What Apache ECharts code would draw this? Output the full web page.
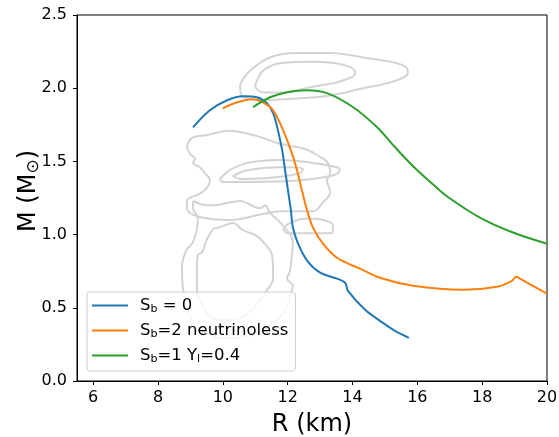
<!DOCTYPE html>
<html>
<head>
<meta charset="utf-8">
<script src="https://cdn.jsdelivr.net/npm/echarts@6/dist/echarts.min.js"></script>
<style>
html,body{margin:0;padding:0;background:#fff;}
#chart{width:559px;height:437px;}
</style>
</head>
<body>
<div id="chart"></div>
<script>
// M-R curves, [R km, M Msun]
var sb0 = [[9.08,1.733],[9.60,1.849],[10.13,1.918],[10.62,1.945],[11.05,1.938],[11.36,1.897],[11.55,1.829],
  [11.70,1.712],[11.83,1.575],[11.92,1.438],[12.01,1.301],[12.10,1.164],[12.16,1.048],[12.32,0.938],
  [12.60,0.822],[13.0,0.740],[13.52,0.699],[13.77,0.671],[13.86,0.616],[14.39,0.486],[14.85,0.411],
  [15.31,0.342],[15.74,0.295]];
var sb2 = [[10.00,1.863],[10.44,1.904],[10.93,1.925],[11.24,1.904],[11.55,1.849],[11.86,1.712],[12.10,1.575],
  [12.29,1.438],[12.44,1.301],[12.60,1.164],[12.78,1.048],[13.09,0.938],[13.52,0.842],[14.23,0.767],
  [14.85,0.705],[15.87,0.651],[17.41,0.623],[18.46,0.644],[18.92,0.685],[19.05,0.712],[19.17,0.699],[20.0,0.596]];
var sb1 = [[10.93,1.870],[11.45,1.938],[11.98,1.973],[12.60,1.986],[13.21,1.966],[14.02,1.870],[14.76,1.733],
  [15.30,1.600],[15.90,1.460],[16.50,1.340],[16.92,1.260],[17.93,1.116],[18.95,1.014],[20.0,0.938]];

// observational contours (grey)
var topOuter = [[10.53,2.02],[10.62,1.94],[11.24,1.92],[12.29,1.93],[13.31,1.95],[14.32,2.00],[15.16,2.04],
  [15.68,2.09],[15.71,2.12],[15.37,2.17],[14.32,2.21],[13.31,2.24],[12.29,2.24],[11.45,2.21],[10.84,2.12],
  [10.59,2.05],[10.53,2.02]];
var topInner = [[10.99,2.01],[11.05,2.05],[11.24,2.12],[11.76,2.17],[12.78,2.18],[13.71,2.16],[14.08,2.11],
  [14.02,2.08],[13.52,2.04],[12.78,2.01],[11.76,1.97],[11.24,1.97],[10.99,2.01]];
var midOuter = [[9.91,1.38],[10.22,1.44],[10.75,1.49],[11.76,1.51],[12.78,1.49],[13.52,1.46],[13.61,1.44],
  [13.31,1.40],[12.29,1.37],[10.75,1.36],[10.0,1.36],[9.91,1.38]];
var midInner = [[10.31,1.40],[10.75,1.44],[11.76,1.46],[12.47,1.45],[12.38,1.42],[11.55,1.39],[10.53,1.38],[10.31,1.40]];
var capLoop = [[8.89,1.60],[9.05,1.66],[9.51,1.68],[10.22,1.71],[10.75,1.69],[11.24,1.66],[11.76,1.62],
  [12.60,1.58],[13.0,1.53],[13.24,1.49],[13.31,1.42],[13.21,1.37],[13.31,1.29],[13.09,1.22],[12.78,1.16],
  [11.76,1.16],[11.24,1.14],[10.22,1.10],[9.29,1.12],[8.89,1.18],[8.89,1.23],[9.29,1.28],[9.51,1.32],
  [9.60,1.37],[9.45,1.42],[9.29,1.46],[9.08,1.49],[9.14,1.52],[8.99,1.55],[8.89,1.60]];
var lowOuter = [[9.08,1.23],[9.51,1.20],[9.70,1.20],[10.22,1.22],[10.53,1.23],[11.15,1.18],[11.30,1.20],
  [11.45,1.15],[11.86,1.06],[12.16,0.95],[12.13,0.86],[12.07,0.75],[11.98,0.70],[12.16,0.65],[12.07,0.58],
  [11.92,0.48],[11.45,0.38],[10.84,0.31],[10.07,0.29],[9.45,0.33],[9.05,0.41],[8.83,0.55],[8.74,0.72],
  [8.74,0.79],[8.83,0.87],[8.89,0.90],[9.08,0.95],[9.20,1.04],[9.23,1.11],[9.08,1.18],[9.08,1.23]];
var lowInner = [[9.70,1.04],[9.91,1.05],[10.31,1.08],[10.62,1.03],[11.05,0.99],[11.36,0.92],[11.52,0.86],
  [11.55,0.75],[11.55,0.70],[11.36,0.62],[10.99,0.51],[10.37,0.42],[9.76,0.42],[9.39,0.51],[9.20,0.62],
  [9.20,0.79],[9.23,0.86],[9.36,0.88],[9.51,0.97],[9.70,1.04]];
var smallLoop = [[11.86,1.04],[12.07,1.08],[12.60,1.11],[13.09,1.10],[13.40,1.06],[13.37,1.01],[12.78,1.01],
  [11.98,1.01],[11.86,1.04]];

var xTicks = [6, 8, 10, 12, 14, 16, 18, 20];
var names = ['Sb0', 'Sb2', 'Sb1'];
var legendText = {Sb0: 'S{s|b} = 0', Sb2: 'S{s|b}=2 neutrinoless', Sb1: 'S{s|b}=1 Y{s|l}=0.4'};

var contours = [topOuter, topInner, midOuter, midInner, capLoop, lowOuter, lowInner, smallLoop];
var series = contours.map(function (c) {
  return {type: 'line', data: c, showSymbol: false, smooth: 0.4, z: 1,
    lineStyle: {color: '#d3d3d3', width: 2}};
});
[[sb0, '#1f77b4'], [sb2, '#ff7f0e'], [sb1, '#2ca02c']].forEach(function (d, i) {
  series.push({name: names[i], type: 'line', data: d[0], showSymbol: false, smooth: 0.35, z: 3,
    color: d[1], lineStyle: {color: d[1], width: 2}});
});

var myChart = echarts.init(document.getElementById('chart'), null, {renderer: 'canvas'});
var font = 'DejaVu Sans';
myChart.setOption({
  animation: false,
  grid: {left: 77, right: 12, top: 15, bottom: 56, show: true, borderColor: '#000', borderWidth: 1,
    outerBoundsMode: 'none', containLabel: false},
  legend: {
    data: names, orient: 'vertical', left: 87, top: 292,
    padding: [4, 7, 6, 5], itemGap: 6, itemWidth: 36, itemHeight: 2, icon: 'rect',
    backgroundColor: 'rgba(255,255,255,0.8)', borderColor: '#ccc', borderWidth: 1, borderRadius: 3,
    formatter: function (n) { return legendText[n]; },
    textStyle: {fontFamily: font, fontSize: 16.5, color: '#000', lineHeight: 19, padding: [0, 0, 0, 7],
      rich: {s: {fontFamily: font, fontSize: 11, verticalAlign: 'bottom', padding: [7, 0, 0, 0]}}}
  },
  xAxis: {
    type: 'value', min: 5.5, max: 20,
    name: 'R (km)', nameLocation: 'middle', nameGap: 32, nameMoveOverlap: false,
    nameTextStyle: {fontFamily: font, fontSize: 24, color: '#000'},
    axisLine: {lineStyle: {color: '#000'}},
    axisTick: {show: true, length: 4, customValues: xTicks, lineStyle: {color: '#000'}},
    axisLabel: {customValues: xTicks, fontFamily: font, fontSize: 16, color: '#000', margin: 9},
    splitLine: {show: false}
  },
  yAxis: {
    type: 'value', min: 0, max: 2.5, interval: 0.5,
    name: 'M (M{s|\u2299})', nameLocation: 'middle', nameGap: 35, nameRotate: 90, nameMoveOverlap: false,
    nameTextStyle: {fontFamily: font, fontSize: 24, color: '#000', padding: [0, 0, 0, 14],
      rich: {s: {fontFamily: font, fontSize: 17, verticalAlign: 'bottom', padding: [9, 0, 0, 0]}}},
    axisLine: {lineStyle: {color: '#000'}},
    axisTick: {show: true, length: 4, lineStyle: {color: '#000'}},
    axisLabel: {fontFamily: font, fontSize: 16, color: '#000', margin: 10,
      formatter: function (v) { return v.toFixed(1); }},
    splitLine: {show: false}
  },
  series: series
});
</script>
</body>
</html>
